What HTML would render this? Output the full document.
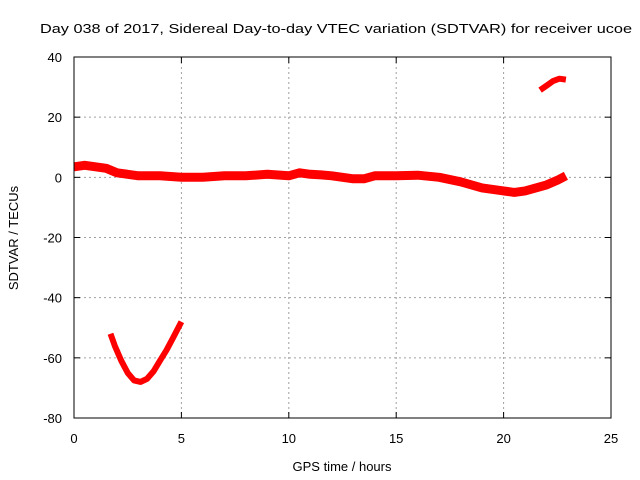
<!DOCTYPE html>
<html><head><meta charset="utf-8"><style>
body{margin:0;background:#fff;}
svg{display:block;font-family:"Liberation Sans",sans-serif;}
</style></head><body>
<svg id="chart" width="640" height="480">
<text x="336" y="33" font-size="13" text-anchor="middle" textLength="592" lengthAdjust="spacingAndGlyphs">Day 038 of 2017, Sidereal Day-to-day VTEC variation (SDTVAR) for receiver ucoe</text>
<text x="342" y="471" font-size="13" text-anchor="middle">GPS time / hours</text>
<text transform="translate(18,238) rotate(-90)" font-size="13" text-anchor="middle">SDTVAR / TECUs</text>
<g id="grid"></g><g id="ticks"></g><g id="series"></g>
<rect x="74" y="57" width="537" height="361" fill="none" stroke="#000" stroke-width="1"/>
</svg>
<script>
const xTicks=[0,5,10,15,20,25];
const yTicks=[40,20,0,-20,-40,-60,-80];
const mainHours=[0,0.5,1,1.5,2,2.5,3,4,5,6,7,8,9,10,10.5,11,11.5,12,13,13.5,14,15,16,17,18,19,20,20.5,21,22,22.5,22.9];
const mainValues=[3.5,4,3.5,3,1.5,1,0.5,0.5,0,0,0.5,0.5,1,0.5,1.5,1,0.8,0.5,-0.5,-0.5,0.5,0.5,0.7,0,-1.5,-3.5,-4.5,-5,-4.5,-2.5,-1,0.5];
const dipHours=[1.7,1.9,2.2,2.5,2.8,3.1,3.4,3.7,4,4.3,4.6,5];
const dipValues=[-52,-56,-61,-65,-67.5,-68,-67,-64.5,-61,-57.5,-53.5,-48];
const topHours=[21.7,22,22.3,22.6,22.9];
const topValues=[29,30.5,32,32.8,32.5];
const X=h=>74+h*(537/25);
const Y=v=>57+(40-v)*(361/120);
const ns="http://www.w3.org/2000/svg";
const grid=document.getElementById('grid'),ticks=document.getElementById('ticks'),series=document.getElementById('series');
function mk(tag,attrs,parent){const e=document.createElementNS(ns,tag);for(const k in attrs)e.setAttribute(k,attrs[k]);parent.appendChild(e);return e;}
xTicks.forEach(t=>{
  if(t>0&&t<25){const g=mk('line',{x1:X(t),x2:X(t),y1:57,y2:418,stroke:'#a0a0a0','stroke-dasharray':'2,3'},grid);
  
  }
  mk('line',{x1:X(t),x2:X(t),y1:418,y2:412,stroke:'#000'},ticks);
  mk('line',{x1:X(t),x2:X(t),y1:57,y2:63,stroke:'#000'},ticks);
  const l=mk('text',{x:X(t),y:443,'font-size':13,'text-anchor':'middle'},ticks);l.textContent=t;
  
  
});
yTicks.forEach(t=>{
  if(t<40&&t>-80){const g=mk('line',{x1:74,x2:611,y1:Y(t),y2:Y(t),stroke:'#a0a0a0','stroke-dasharray':'2,3'},grid);
  
  }
  mk('line',{x1:74,x2:80,y1:Y(t),y2:Y(t),stroke:'#000'},ticks);
  mk('line',{x1:611,x2:605,y1:Y(t),y2:Y(t),stroke:'#000'},ticks);
  const l=mk('text',{x:62,y:Y(t)+5,'font-size':13,'text-anchor':'end'},ticks);l.textContent=t;
  
  
});
function draw(hs,vs,w,name){
  const p=hs.map((h,i)=>X(h).toFixed(1)+','+Y(vs[i]).toFixed(1)).join(' ');
  const e=mk('polyline',{points:p,fill:'none',stroke:'#ff0000','stroke-width':w,'stroke-linejoin':'round','stroke-linecap':'butt'},series);
  
  
}
draw(mainHours,mainValues,9,'main-series');
draw(dipHours,dipValues,6,'dip-series');
draw(topHours,topValues,6,'top-series');
</script>
</body></html>
